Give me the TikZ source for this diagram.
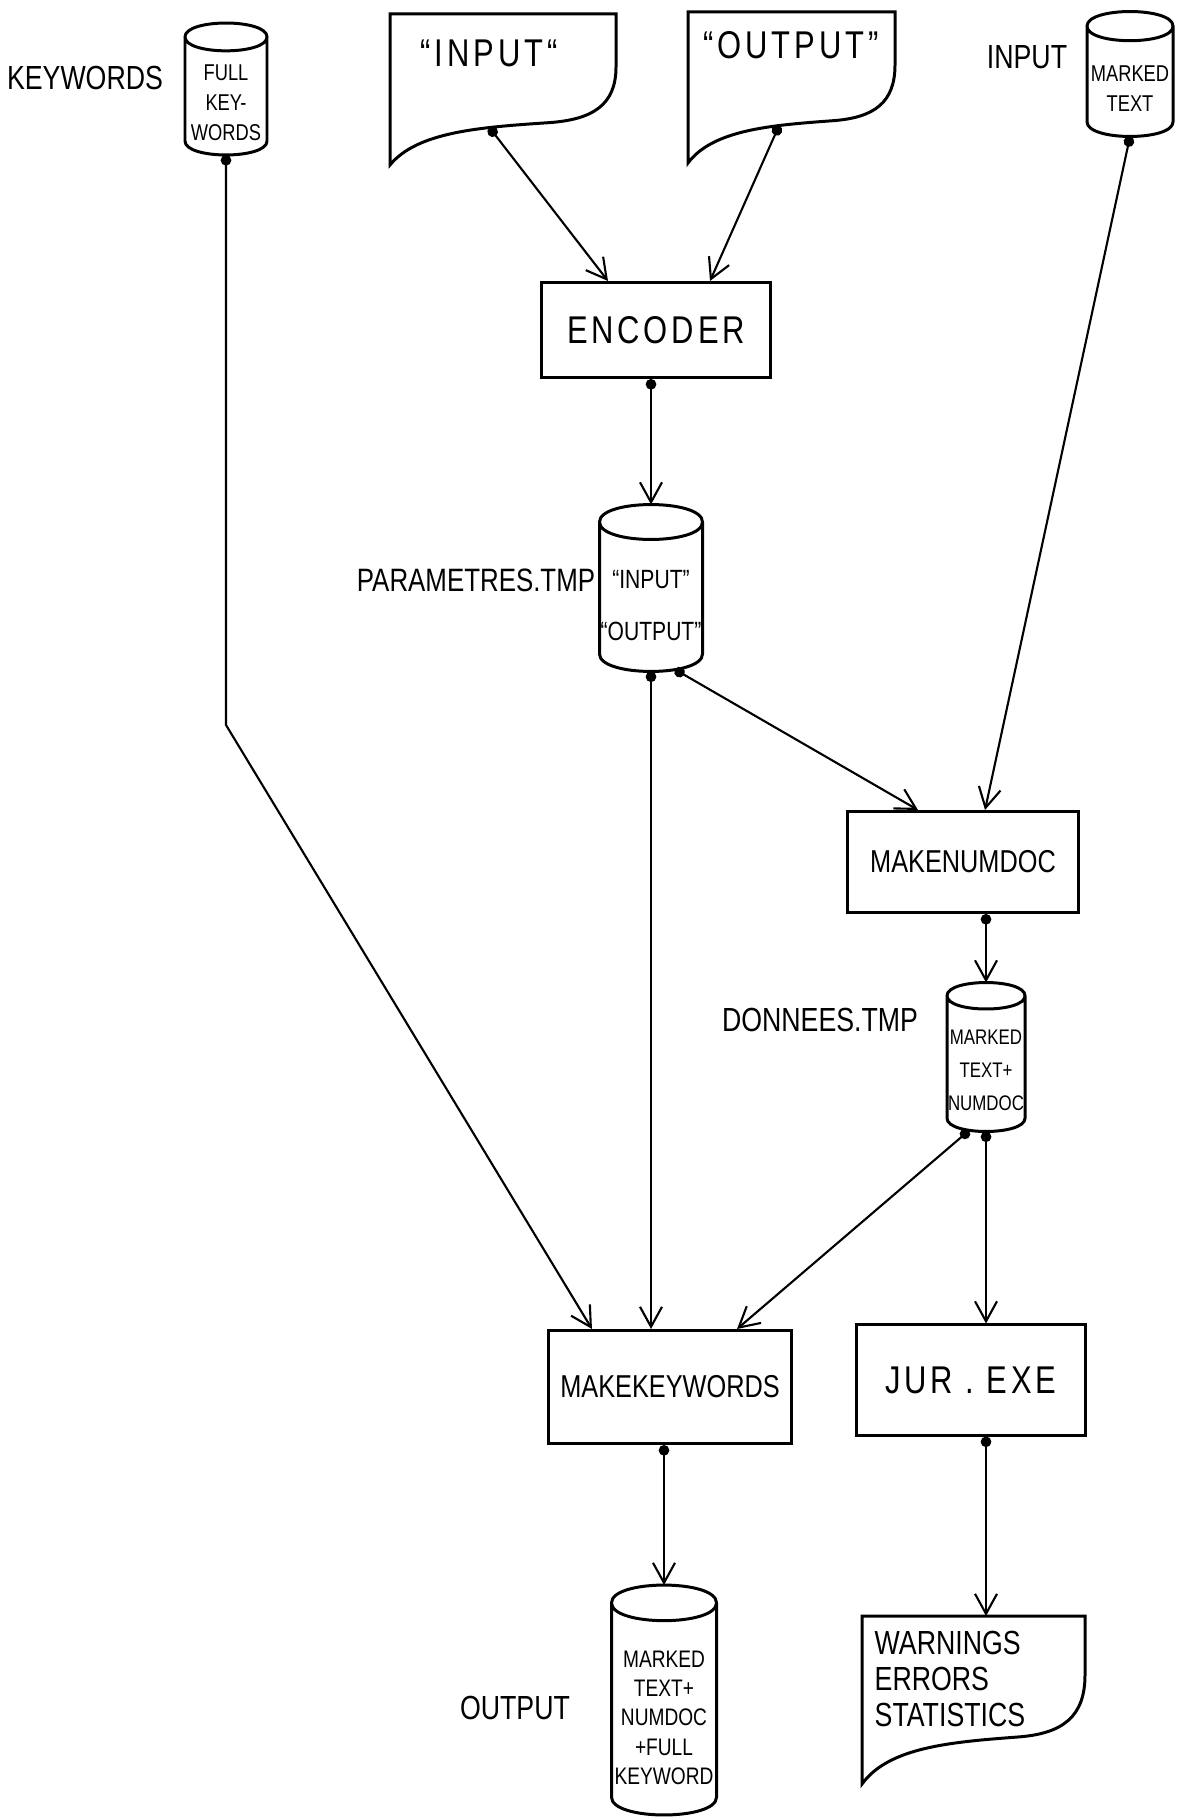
\documentclass[tikz,border=0pt]{standalone}
\usepackage{fontspec}
\setmainfont{Liberation Sans}[FakeStretch=0.8]
\usetikzlibrary{arrows.meta}
\tikzset{%
    >={Straight Barb[length=2mm,width=2.2mm]},
    proc/.style={draw,line width=0.85pt,font=\fontsize{9}{11}\selectfont},
    lbl/.style={inner sep=0pt,font=\fontsize{9.5}{11}\selectfont},
    wide/.style={inner sep=0pt,font=\fontsize{11}{13}\selectfont\addfontfeature{LetterSpace=10}},
    flow/.style={line width=0.6pt,{Circle[length=3pt]}->},
    cantxt/.style={inner sep=0pt,align=center},
    pics/doc/.style 2 args={code={
        \draw[line width=0.85pt] (0,0) -- (#1,0) -- (#1,0.35*#2)
            .. controls (#1,0.6*#2) and (0.9*#1,0.7*#2) .. (0.7*#1,0.72*#2)
            .. controls (0.4*#1,0.75*#2) and (0.12*#1,0.78*#2) .. (0,#2) -- cycle;
        \coordinate (-nw) at (0,0);
        \coordinate (-dot) at (0.44*#1,0.752*#2);
    }},
    pics/can/.style n args={3}{code={
        \pgfmathsetmacro{\canw}{0.5*#1}
        \pgfmathsetmacro{\canr}{0.17*#1}
        \pgfmathsetmacro{\cant}{-0.5*#2+\canr}
        \pgfmathsetmacro{\canb}{0.5*#2-\canr}
        \draw[line width=0.85pt] (-\canw,\cant) .. controls (-\canw,\cant-1.33*\canr) and (\canw,\cant-1.33*\canr) .. (\canw,\cant)
            .. controls (\canw,\cant+1.33*\canr) and (-\canw,\cant+1.33*\canr) .. cycle
            (-\canw,\cant) -- (-\canw,\canb) .. controls (-\canw,\canb+1.33*\canr) and (\canw,\canb+1.33*\canr) .. (\canw,\canb) -- (\canw,\cant);
        \coordinate (-top) at (0,-0.5*#2);
        \coordinate (-bot) at (0,0.5*#2);
        \node[cantxt] (-txt) at (0,\canr) {#3};
    }}
}

\begin{document}
\begin{tikzpicture}[x=0.01cm,y=-0.01cm]
      \useasboundingbox (0,0) rectangle (1179,1819);

      % input files
      \pic[font=\fontsize{6.5}{8.5}\selectfont] (kw) at (226,89) {can={82}{132}{FULL\\KEY-\\WORDS}};
      \node[lbl] (kwlbl) at (85,78) {KEYWORDS};
      \pic (inp) at (390,14) {doc={226}{151}};
      \node[wide] (inptxt) at (489,53) {“INPUT“};
      \pic (outd) at (688,12) {doc={207}{151}};
      \node[wide] (outtxt) at (791,45) {“OUTPUT”};
      \pic[font=\fontsize{6.5}{8.5}\selectfont] (mt) at (1130,74) {can={86}{125}{MARKED\\TEXT}};
      \node[lbl] (inlbl) at (1027,57) {INPUT};

      % programs and temp files
      \node[proc,minimum width=2.28cm,minimum height=0.95cm,wide] (enc) at (656,330) {ENCODER};
      \pic[font=\fontsize{7.5}{15}\selectfont] (par) at (651,588) {can={103}{167}{“INPUT”\\“OUTPUT”}};
      \node[lbl,font=\fontsize{9.2}{11}\selectfont] (parlbl) at (476,580) {PARAMETRES.TMP};
      \node[proc,minimum width=2.30cm,minimum height=1.01cm] (mnd) at (963,862) {MAKENUMDOC};
      \pic[font=\fontsize{6}{9.4}\selectfont] (don) at (986,1057) {can={78}{149}{MARKED\\TEXT+\\NUMDOC}};
      \node[lbl] (donlbl) at (820,1020) {DONNEES.TMP};
      \node[proc,minimum width=2.30cm,minimum height=1.13cm] (mkw) at (670,1387) {MAKEKEYWORDS};
      \node[proc,minimum width=2.28cm,minimum height=1.10cm,wide] (jur) at (971,1380) {JUR . EXE};

      % results
      \pic[font=\fontsize{6.8}{8.3}\selectfont] (out) at (664,1700) {can={105}{230}{MARKED\\TEXT+\\NUMDOC\\+FULL\\KEYWORD}};
      \node[lbl] (outlbl) at (515,1708) {OUTPUT};
      \pic (warn) at (862,1616) {doc={223}{168}};
      \node[inner sep=0pt,anchor=north west,align=left,font=\fontsize{9.5}{10.3}\selectfont] (warntxt) at (874,1630) {WARNINGS\\ERRORS\\STATISTICS};

      \coordinate (kwbend) at (226,725);

      \draw[flow] (kw-bot) -- (kwbend) -- ([xshift=-0.78cm]mkw.north);
      \draw[flow] (inp-dot) -- ([xshift=-0.48cm]enc.north);
      \draw[flow] (outd-dot) -- ([xshift=0.54cm]enc.north);
      \draw[flow] (par-top |- enc.south) -- (par-top);
      \draw[flow] (par-bot) -- (par-bot |- mkw.north);
      \draw[flow] ([xshift=0.24cm,yshift=0.02cm]par-bot) -- ([xshift=-0.45cm]mnd.north);
      \draw[flow] (mt-bot) -- ([xshift=0.22cm]mnd.north);
      \draw[flow] (don-top |- mnd.south) -- (don-top);
      \draw[flow] ([xshift=-0.17cm,yshift=0.01cm]don-bot) -- ([xshift=0.67cm]mkw.north);
      \draw[flow] (don-bot) -- (don-bot |- jur.north);
      \draw[flow] (don-bot |- jur.south) -- (don-bot |- warn-nw);
      \draw[flow] (out-top |- mkw.south) -- (out-top);
\end{tikzpicture}
\end{document}
